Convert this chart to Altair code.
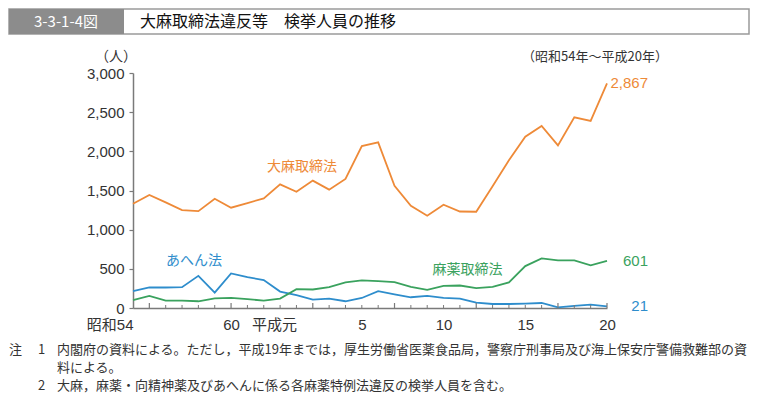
import altair as alt
import pandas as pd

# ---- data ----
years = list(range(1979, 2009))
cannabis = [1330, 1443, 1348, 1250, 1237, 1395, 1280, 1340, 1400, 1579,
            1483, 1626, 1511, 1648, 2067, 2114, 1560, 1306, 1177, 1318,
            1232, 1229, 1553, 1887, 2187, 2324, 2076, 2435, 2388, 2867]
opium = [214, 262, 262, 266, 411, 197, 441, 394, 356, 210,
         163, 108, 120, 86, 128, 216, 175, 137, 154, 130,
         120, 69, 51, 51, 56, 64, 9, 26, 44, 21]
narcotics = [99, 154, 95, 95, 86, 124, 128, 112, 95, 120,
             240, 236, 266, 326, 352, 343, 330, 270, 231, 283,
             287, 253, 270, 326, 535, 634, 608, 608, 544, 601]

series_names = ["大麻取締法", "あへん法", "麻薬取締法"]
series_colors = ["#EE8A38", "#2E8DCC", "#3AA25E"]

x_label_years = [1979, 1985, 1989, 1993, 1998, 2003, 2008]
x_labels = ["昭和54", "60", "平成元", "5", "10", "15", "20"]
major_tick_years = [1980, 1985, 1990, 1995, 2000, 2005, 2008]
y_ticks = [0, 500, 1000, 1500, 2000, 2500, 3000]

fig_no = "3-3-1-4図"
title = "大麻取締法違反等　検挙人員の推移"
unit = "（人）"
period = "（昭和54年～平成20年）"
notes = [
    ("注", "1", "内閣府の資料による。ただし，平成19年までは，厚生労働省医薬食品局，警察庁刑事局及び海上保安庁警備救難部の資"),
    ("", "", "料による。"),
    ("", "2", "大麻，麻薬・向精神薬及びあへんに係る各麻薬特例法違反の検挙人員を含む。"),
]

# ---- tables ----
rows = []
for name, vals in zip(series_names, [cannabis, opium, narcotics]):
    for y, v in zip(years, vals):
        rows.append({"series": name, "year": y, "value": v})
df = pd.DataFrame(rows)

end_df = pd.DataFrame({
    "series": series_names,
    "year": [years[-1]] * 3,
    "value": [cannabis[-1], opium[-1], narcotics[-1]],
})
end_df["label"] = end_df["value"].map(lambda v: f"{v:,}")

minor_df = pd.DataFrame({"year": [y for y in years[1:] if y not in major_tick_years]})
major_df = pd.DataFrame({"year": major_tick_years})

label_expr = ""
for yv, lab in zip(x_label_years, x_labels):
    label_expr += f"datum.value == {yv} ? '{lab}' : "
label_expr += "''"

W, H = 474, 235
AXIS_C = "#7a7a7a"
TXT_C = "#333333"
NUM_FONT = "Liberation Sans, Arial, Noto Sans CJK JP"
JP_FONT = "Noto Sans CJK JP"

color_scale = alt.Scale(domain=series_names, range=series_colors)
x_scale = alt.Scale(domain=[years[0], years[-1]], nice=False, zero=False)
y_scale = alt.Scale(domain=[0, 3000], nice=False)

x_axis = alt.Axis(values=x_label_years, labelExpr=label_expr, tickSize=0,
                  domainColor=AXIS_C, domainWidth=1.5, grid=False,
                  labelFont=NUM_FONT, labelFontSize=15, labelColor=TXT_C,
                  labelPadding=9, labelOverlap=False, labelFlush=False,
                  labelAlign={"condition": {"test": "datum.value == 1979 || datum.value == 1989",
                                            "value": "right"}, "value": "center"})
y_axis = alt.Axis(values=y_ticks, format=",.0f", tickSize=4, tickColor=AXIS_C,
                  tickWidth=1.2, domainColor=AXIS_C, domainWidth=1.5, grid=False,
                  labelFont=NUM_FONT, labelFontSize=15, labelColor=TXT_C,
                  labelPadding=5, labelOverlap=False, labelFlush=False)

X = alt.X("year:Q", scale=x_scale, title=None, axis=x_axis)
Y = alt.Y("value:Q", scale=y_scale, title=None, axis=y_axis)

lines = alt.Chart(df).mark_line(strokeWidth=1.8).encode(
    x=X, y=Y, color=alt.Color("series:N", scale=color_scale, legend=None))

minor_ticks = alt.Chart(minor_df).mark_rule(color=AXIS_C, strokeWidth=1).encode(
    x=X, y=alt.value(H), y2=alt.value(H - 3))
major_ticks = alt.Chart(major_df).mark_rule(color=AXIS_C, strokeWidth=1.2).encode(
    x=X, y=alt.value(H), y2=alt.value(H - 5))

end_labels = alt.Chart(end_df).mark_text(align="right", baseline="middle", dx=41,
                                         font=NUM_FONT, fontSize=15).encode(
    x=X, y=Y, text="label:N",
    color=alt.Color("series:N", scale=color_scale, legend=None))

one = pd.DataFrame({"a": [0]})


def txt(s, x, y, size, color, align="center", font=JP_FONT, weight="normal"):
    return alt.Chart(one).mark_text(text=s, align=align, baseline="middle", fontSize=size,
                                    color=color, font=font, fontWeight=weight).encode(
        x=alt.value(x), y=alt.value(y))


def box(x1, x2, y1, y2, fill, stroke=None):
    kw = {"fill": fill}
    if stroke:
        kw.update(stroke=stroke, strokeWidth=1.5)
    return alt.Chart(one).mark_rect(**kw).encode(
        x=alt.value(x1), x2=alt.value(x2), y=alt.value(y1), y2=alt.value(y2))


layers = [
    lines, minor_ticks, major_ticks, end_labels,
    box(-124, 616, -64, -39, "white", "#9a9a9a"),
    box(-124, -9, -64, -39, "#8c8c8c"),
    txt(fig_no, -67, -51.5, 15, "white", font="Liberation Sans Narrow, Noto Sans CJK JP"),
    txt(title, 7, -51.5, 16, "#111111", align="left"),
    txt(unit, -17, -16, 14, TXT_C),
    txt(period, 462, -16, 13, TXT_C),
    txt(series_names[0], 169, 94, 14, series_colors[0]),
    txt(series_names[1], 61, 188, 14, series_colors[1]),
    txt(series_names[2], 334.5, 197, 14, series_colors[2]),
]
note_y = [277, 295, 313]
for (a, b, c), yy in zip(notes, note_y):
    if a:
        layers.append(txt(a, -124, yy, 13, TXT_C, align="left"))
    if b:
        layers.append(txt(b, -95, yy, 13, TXT_C, align="left"))
    layers.append(txt(c, -76, yy, 13, TXT_C, align="left"))

chart = alt.layer(*layers).properties(
    width=W, height=H,
    autosize=alt.AutoSizeParams(type="none"),
    padding={"left": 125, "top": 65, "right": 143, "bottom": 88},
    background="white",
).configure_view(stroke=None)

chart.save("out.html", embed_options={"renderer": "svg", "actions": False})
